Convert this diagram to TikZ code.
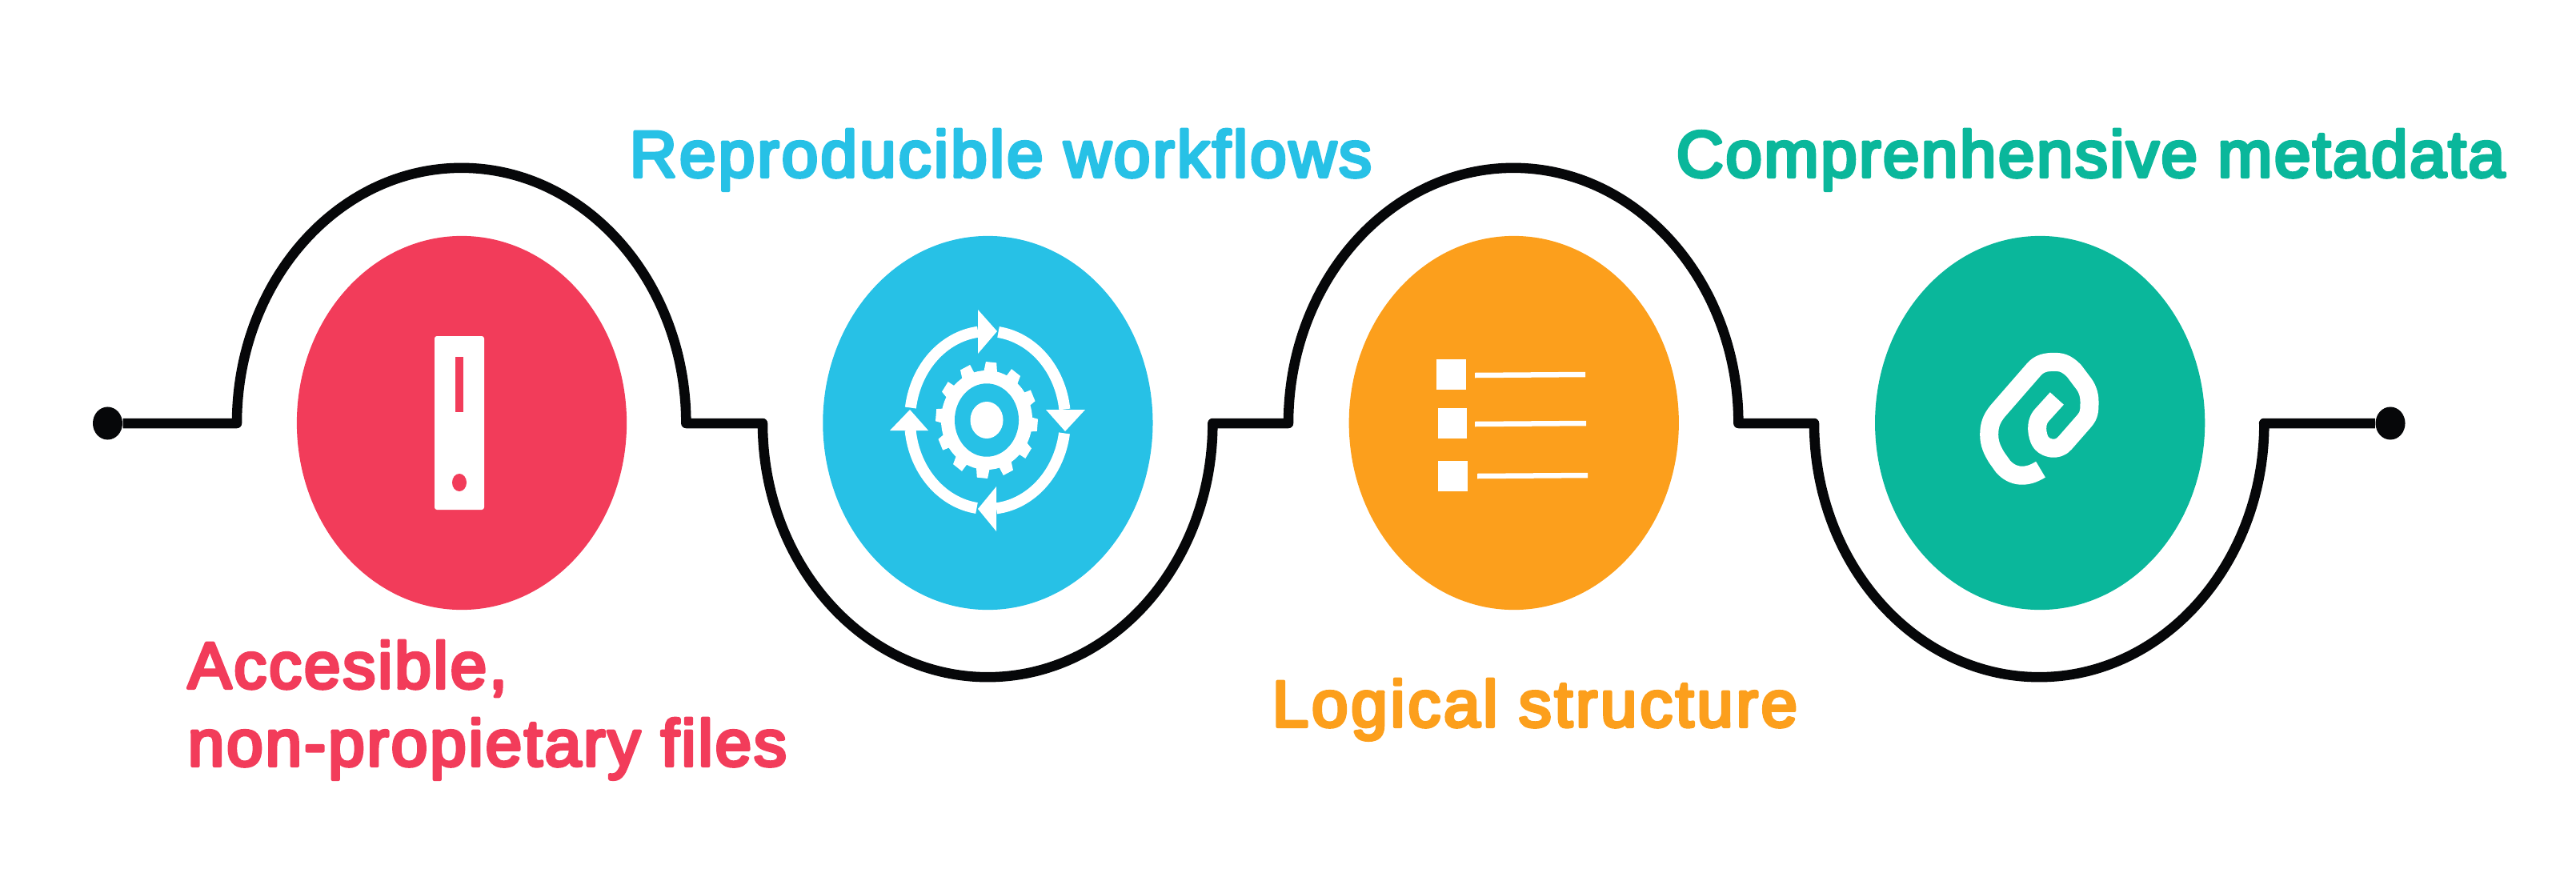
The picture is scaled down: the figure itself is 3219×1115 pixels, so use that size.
\documentclass[tikz,border=0pt]{standalone}
\usepackage{fontspec}
\newfontfamily\labelfont[FakeBold=5,LetterSpace=3.5]{Liberation Sans}
\usetikzlibrary{shapes.geometric,positioning}
\definecolor{redcol}{HTML}{F23C5A}
\definecolor{bluecol}{HTML}{27C1E6}
\definecolor{orangecol}{HTML}{FC9F1C}
\definecolor{greencol}{HTML}{0AB79B}
\definecolor{inkcol}{HTML}{060709}
\newcommand{\labeltext}{\pgfsetroundjoin\labelfont\fontsize{23.3pt}{27.6pt}\selectfont}

\begin{document}
\begin{tikzpicture}[
  x=0.01cm, y=-0.01cm,
  bubble/.style={ellipse, minimum width=4.12cm, minimum height=4.67cm, inner sep=0pt, outer sep=0pt},
  dotend/.style={ellipse, fill=inkcol, minimum width=0.37cm, minimum height=0.41cm, inner sep=0pt},
  wave/.style={draw=inkcol, line width=0.125cm, line join=round},
  caption/.style={anchor=base west, inner sep=0pt, align=left, font=\labeltext},
  whitebar/.style={draw=white, line width=0.065cm},
  ringarc/.style={draw=white, line width=0.14cm},
  clipline/.style={draw=white, line width=0.23cm, line join=round}
]
\useasboundingbox (0,0) rectangle (3219,1115);
\node[bubble, fill=redcol] (files) at (577,528.5) {};
\node[bubble, fill=bluecol, right=2.45cm of files] (flows) {};
\node[bubble, fill=orangecol, right=2.45cm of flows] (logic) {};
\node[bubble, fill=greencol, right=2.45cm of logic] (meta) {};
\node[dotend] (start) at (134.5,529) {};
\node[dotend] (finish) at (2987,529) {};
\coordinate (j1) at (296,529);
\coordinate (j2) at (953,529);
\coordinate (j3) at (1610,529);
\coordinate (j4) at (2267,529);
\coordinate (j5) at (2829,529);
\draw[wave] (start) -- (j1)
  arc[start angle=180, end angle=0, x radius=2.805cm, y radius=3.19cm] -- (j2)
  arc[start angle=180, end angle=360, x radius=2.81cm, y radius=3.17cm] -- (j3)
  arc[start angle=180, end angle=0, x radius=2.81cm, y radius=3.19cm] -- (j4)
  arc[start angle=180, end angle=360, x radius=2.81cm, y radius=3.17cm] -- (j5) -- (finish);

\node[caption, text=redcol] (accesible) at (234,957) {Accesible,\\non-propietary files};
\node[caption, text=bluecol] (reproducible) at (786,221) {\addfontfeature{LetterSpace=3.8}Reproducible workflows};
\node[caption, text=orangecol] (logical) at (1589,908) {\addfontfeature{LetterSpace=4.5}Logical structure};
\node[caption, text=greencol] (comprehensive) at (2094,221) {\addfontfeature{LetterSpace=3}Comprenhensive metadata};

% binder
\fill[white, rounded corners=0.03cm] (543,420) rectangle (605,637);
\fill[redcol] (569,446) rectangle (579,515);
\fill[redcol] (574,603) ellipse [x radius=0.09cm, y radius=0.11cm];

% gear and arrows
\coordinate (gear) at (1233,525);
\begin{scope}[shift={(gear)}]
\foreach \a in {0,30,...,330}
  \fill[white] ({54*cos(\a-5-9)},{-60*sin(\a-5-9)}) -- ({64*cos(\a-5-6)},{-73*sin(\a-5-6)})
    -- ({64*cos(\a-5+6)},{-73*sin(\a-5+6)}) -- ({54*cos(\a-5+9)},{-60*sin(\a-5+9)}) -- cycle;
\fill[white] (0,0) ellipse [x radius=0.57cm, y radius=0.62cm];
\fill[bluecol] (0,0) ellipse [x radius=0.40cm, y radius=0.457cm];
\fill[white] (0,0) ellipse [x radius=0.205cm, y radius=0.23cm];
\end{scope}
\begin{scope}[shift={(1234,525)}]
\foreach \from/\to in {172/97, 82/7, -8.5/-83.5, -98/-173.5}
  \draw[ringarc] (\from:0.97cm and 1.11cm) arc[start angle=\from, end angle=\to, x radius=0.97cm, y radius=1.11cm];
\end{scope}
\fill[white] (1222,387) -- (1246,414) -- (1222,442) -- cycle;
\fill[white] (1307,512) -- (1356,512) -- (1331,539) -- cycle;
\fill[white] (1245,608) -- (1222,636) -- (1245,664) -- cycle;
\fill[white] (1112,538) -- (1137,512) -- (1160,538) -- cycle;

% list
\fill[white] (1795,449) rectangle (1832,487);
\fill[white] (1797,510) rectangle (1833,548);
\fill[white] (1797,576) rectangle (1834,614);
\draw[whitebar] (1843,469) -- (1981,468);
\draw[whitebar] (1843,530) -- (1982,529);
\draw[whitebar] (1846,595) -- (1984,594);

% paper clip
\begin{scope}[shift={(2350,380)}, scale=0.3333]
\draw[clipline] (661,354) -- (603,418) .. controls (587,436) and (580,470) .. (596,510)
  .. controls (610,542) and (665,555) .. (692,520) -- (762,440)
  .. controls (783,416) and (783,400) .. (783,365) .. controls (783,335) and (772,310) .. (755,290)
  -- (725,250) .. controls (695,220) and (675,217) .. (650,217) .. controls (620,217) and (595,222) .. (575,245)
  -- (440,400) .. controls (415,430) and (407,455) .. (407,490) .. controls (407,525) and (420,550) .. (435,575)
  -- (460,610) .. controls (495,648) and (545,655) .. (600,620);
\end{scope}
\end{tikzpicture}
\end{document}
